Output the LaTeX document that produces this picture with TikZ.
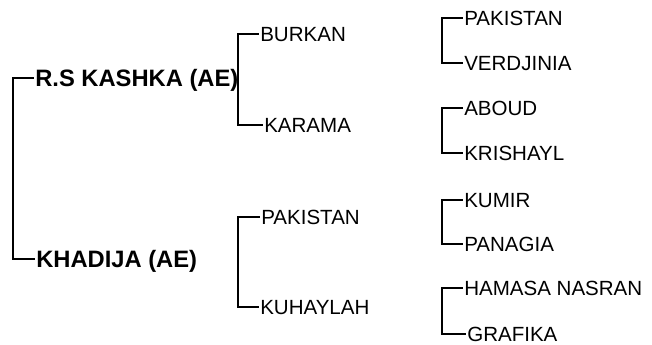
\documentclass[tikz,border=0pt]{standalone}
\usepackage{fontspec}
\setmainfont{Liberation Sans}
\usetikzlibrary{positioning}

\begin{document}
\begin{tikzpicture}[
  x=0.75pt,y=-0.75pt,
  horse/.style={anchor=west, inner xsep=1.5pt, inner ysep=0pt,
    text height=11pt, text depth=0pt, font=\fontsize{15.4}{18}\selectfont},
  parent/.style={horse, text height=12.8pt, font=\fontsize{17.8}{21}\selectfont\bfseries},
  bracket/.style={line width=2pt, draw=black, line cap=rect}
]
\useasboundingbox (0,0) rectangle (652,345);

% dam and sire
\node[parent] (kashka) at (33,78) {R.S KASHKA (AE)};
\node[parent] (khadija) at (34,259) {KHADIJA (AE)};

% second generation
\node[horse] (burkan) at (258,34) {BURKAN};
\node[horse] (karama) at (262,125) {KARAMA};
\node[horse] (pakistanB) at (259,217) {PAKISTAN};
\node[horse] (kuhaylah) at (258,307) {KUHAYLAH};

% third generation
\node[horse] (pakistanA) at (462,18) {PAKISTAN};
\node[horse] (verdjinia) at (462,63) {VERDJINIA};
\node[horse] (aboud) at (462,108) {ABOUD};
\node[horse] (krishayl) at (462,153) {KRISHAYL};
\node[horse] (kumir) at (462,200) {KUMIR};
\node[horse] (panagia) at (462,244) {PANAGIA};
\node[horse] (hamasa) at (462,288) {HAMASA NASRAN};
\node[horse] (grafika) at (465,334) {GRAFIKA};

\draw[bracket] (kashka.west) -- ++(-20,0) |- (khadija.west);
\draw[bracket] (burkan.west) -- ++(-20,0) |- (karama.west);
\draw[bracket] (pakistanB.west) -- ++(-21,0) |- (kuhaylah.west);
\draw[bracket] (pakistanA.west) -- ++(-20,0) |- (verdjinia.west);
\draw[bracket] (aboud.west) -- ++(-20,0) |- (krishayl.west);
\draw[bracket] (kumir.west) -- ++(-20,0) |- (panagia.west);
\draw[bracket] (hamasa.west) -- ++(-20,0) |- (grafika.west);
\end{tikzpicture}
\end{document}
